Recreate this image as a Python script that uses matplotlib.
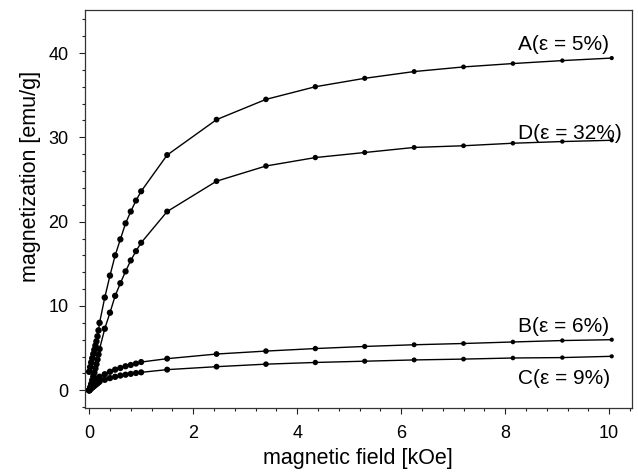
import numpy as np
import matplotlib
matplotlib.use("Agg")
import matplotlib.pyplot as plt
from matplotlib.ticker import MultipleLocator

plt.rcParams['font.family'] = ['Liberation Sans', 'DejaVu Sans']

# magnetic field [kOe]
field = [0.0, 0.02, 0.04, 0.06, 0.08, 0.10, 0.12, 0.14, 0.16, 0.18, 0.20,
         0.3, 0.4, 0.5, 0.6, 0.7, 0.8, 0.9, 1.0,
         1.5, 2.45, 3.4, 4.35, 5.3, 6.25, 7.2, 8.15, 9.1, 10.05]

mag_A = [2.2, 2.75, 3.3, 3.8, 4.3, 4.8, 5.3, 5.8, 6.4, 7.1, 8.0,
         11.0, 13.6, 16.0, 17.9, 19.8, 21.2, 22.5, 23.6,
         27.9, 32.1, 34.5, 36.0, 37.0, 37.8, 38.35, 38.75, 39.1, 39.4]
mag_D = [0.0, 0.35, 0.75, 1.2, 1.65, 2.1, 2.6, 3.1, 3.65, 4.25, 4.9,
         7.3, 9.2, 11.2, 12.7, 14.1, 15.4, 16.5, 17.5,
         21.2, 24.8, 26.6, 27.6, 28.2, 28.8, 29.0, 29.3, 29.5, 29.65]
mag_B = [0.0, 0.2, 0.38, 0.55, 0.7, 0.85, 1.0, 1.15, 1.3, 1.45, 1.6,
         1.9, 2.2, 2.45, 2.65, 2.85, 3.0, 3.17, 3.35,
         3.75, 4.3, 4.65, 4.95, 5.2, 5.4, 5.55, 5.73, 5.9, 6.0]
mag_C = [0.0, 0.12, 0.24, 0.35, 0.45, 0.55, 0.65, 0.75, 0.85, 0.95, 1.05,
         1.25, 1.45, 1.6, 1.75, 1.85, 1.95, 2.05, 2.13,
         2.45, 2.8, 3.1, 3.3, 3.45, 3.6, 3.7, 3.83, 3.88, 4.03]

labels = ["A(ε = 5%)", "D(ε = 32%)", "B(ε = 6%)", "C(ε = 9%)"]
series = [mag_A, mag_D, mag_B, mag_C]
label_pos = [(8.25, 40.35), (8.25, 29.75), (8.25, 6.95), (8.25, 0.75)]

fig = plt.figure(figsize=(6.38, 4.73), dpi=100)
ax = fig.add_axes([85/638, 1 - 408/473, (632-85)/638, (408-10)/473])

xs = np.array(field)
# marker diameter (px) shrinking slightly at high field, as in the reference
diam_px = np.interp(xs, [0, 1.5, 10], [6.5, 6.0, 4.2])
sizes = (diam_px * 72 / 100) ** 2

for ys in series:
    ax.plot(field, ys, color='black', lw=1.0, zorder=2)
    ax.scatter(field, ys, s=sizes, color='black', zorder=3, linewidths=0)

for (lx, ly), lab in zip(label_pos, labels):
    ax.text(lx, ly, lab, fontsize=15, ha='left', va='baseline', color='black')

ax.set_xlim(-0.08, 10.44)
ax.set_ylim(-2.1, 45.1)
ax.xaxis.set_major_locator(MultipleLocator(2))
ax.xaxis.set_minor_locator(MultipleLocator(0.4))
ax.yaxis.set_major_locator(MultipleLocator(10))
ax.yaxis.set_minor_locator(MultipleLocator(2))
ax.tick_params(which='both', direction='out', top=False, right=False,
               labelsize=13, color='#222222', width=0.8)
ax.tick_params(which='major', length=4, pad=8)
ax.tick_params(which='minor', length=2.2)
for sp in ax.spines.values():
    sp.set_linewidth(0.9)
    sp.set_color('#333333')

ax.set_xlabel("magnetic field [kOe]", fontsize=15.5, va='center')
ax.set_ylabel("magnetization [emu/g]", fontsize=15.5, va='center')
ax.xaxis.set_label_coords(0.499, -0.128)
ax.yaxis.set_label_coords(-0.1, 0.583)

fig.savefig("out.png", dpi=100)
